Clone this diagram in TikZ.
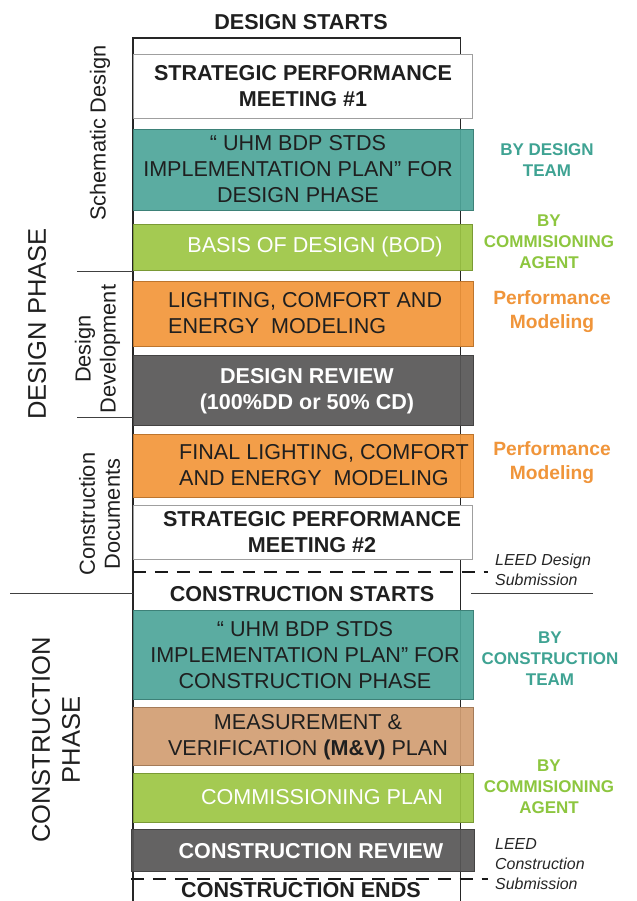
\documentclass[tikz,border=0pt]{standalone}
\usepackage{fontspec}
\setmainfont{Liberation Sans}
\usepackage{xcolor}
\usetikzlibrary{positioning}
\definecolor{tealbox}{HTML}{4EA69A}
\definecolor{greenbox}{HTML}{9DC644}
\definecolor{orangebox}{HTML}{F2963A}
\definecolor{darkbox}{HTML}{575656}
\definecolor{tanbox}{HTML}{D29E72}
\definecolor{tealtxt}{HTML}{3FA393}
\definecolor{greentxt}{HTML}{8DC63F}
\definecolor{orangetxt}{HTML}{F0953A}
\newcommand{\boxfont}{\fontsize{18.4}{22.2}\selectfont}

\begin{document}
\begin{tikzpicture}[x=0.03cm, y=-0.03cm,
    box/.style={draw=#1!78!black, fill=#1, fill opacity=0.92, line width=0.8pt},
    wbox/.style={draw=gray!75, fill=white, line width=0.8pt},
    boxtxt/.style={align=center, inner sep=0pt, text=black!88, font=\boxfont},
    boldtxt/.style={boxtxt, font=\boxfont\bfseries},
    sidetxt/.style={align=center, inner sep=0pt, font=\fontsize{14.5}{17.9}\selectfont\bfseries},
    perftxt/.style={sidetxt, text=orangetxt, font=\fontsize{16.4}{20.5}\selectfont\bfseries},
    leedtxt/.style={align=left, anchor=west, inner sep=0pt, text=black!85, font=\fontsize{13.6}{17}\selectfont\itshape},
    phasetxt/.style={rotate=90, align=center, inner sep=0pt, text=black!88, font=\fontsize{18.6}{21.3}\selectfont},
    colline/.style={draw=black!85, line width=0.9pt},
    sepline/.style={draw=black!75, line width=0.8pt},
    milestone/.style={draw=black!90, line width=1.7pt, dash pattern=on 11pt off 7.7pt}]

\useasboundingbox (0,0) rectangle (636,901);
\fill[white] (0,0) rectangle (636,901);

% timeline column
\coordinate (colbl) at (133,901);
\coordinate (coltl) at (133,38);
\coordinate (coltr) at (460.6,38);
\coordinate (colbr) at (460.6,901);
\draw[colline] (colbl) -- (coltl) -- (coltr) -- (colbr);

\node[boldtxt] (dstart) at (301,22) {DESIGN STARTS};

% design phase
\draw[wbox] (133,54) rectangle (472,118);
\node[boldtxt] (spm1) at (303,86) {STRATEGIC PERFORMANCE\\MEETING \#1};

\draw[box=tealbox] (133,129) rectangle (473,210);
\node[boxtxt] (implD) at (298,169) {“ UHM BDP STDS\\IMPLEMENTATION PLAN” FOR\\DESIGN PHASE};

\draw[box=greenbox] (133,224) rectangle (472,270);
\node[boxtxt, text=white] (bod) at (315,247) {BASIS OF DESIGN (BOD)};

\draw[box=orangebox] (133,281) rectangle (473,346);
\node[boxtxt, align=left, anchor=west] (model1) at (168,313) {LIGHTING, COMFORT AND\\ENERGY~ MODELING};

\draw[box=darkbox] (133,355) rectangle (473,425);
\node[boldtxt, text=white] (drev) at (307,391) {DESIGN REVIEW\\(100\%DD or 50\% CD)};

\draw[box=orangebox] (133,434) rectangle (473,497);
\node[boxtxt, align=left, anchor=west] (model2) at (179,465) {FINAL LIGHTING, COMFORT\\AND ENERGY~ MODELING};

\draw[wbox] (133,505) rectangle (472,559);
\node[boldtxt] (spm2) at (312,532) {STRATEGIC PERFORMANCE\\MEETING \#2};

\coordinate (leedD) at (488,572);
\draw[milestone] (133,572) -- (leedD);

% construction phase
\node[boldtxt] (cstart) at (302,594) {CONSTRUCTION STARTS};

\draw[box=tealbox] (133,610) rectangle (473,699);
\node[boxtxt] (implC) at (305,655) {“ UHM BDP STDS\\IMPLEMENTATION PLAN” FOR\\CONSTRUCTION PHASE};

\draw[box=tanbox] (133,707) rectangle (473,765);
\node[boxtxt] (mv) at (308,737) {MEASUREMENT \&\\VERIFICATION \textbf{(M\&V)} PLAN};

\draw[box=greenbox] (133,773) rectangle (473,822);
\node[boxtxt, text=white] (cxplan) at (322,797) {COMMISSIONING PLAN};

\draw[box=darkbox] (131,829) rectangle (474,871);
\node[boldtxt, text=white] (crev) at (311,851) {CONSTRUCTION REVIEW};

\coordinate (leedC) at (488,879);
\draw[milestone] (131,879) -- (leedC);

\node[boldtxt] (cend) at (301,890) {CONSTRUCTION ENDS};

% right hand notes
\node[sidetxt, text=tealtxt] (byDT) at (547,160) {BY DESIGN\\TEAM};
\node[sidetxt, text=greentxt] (byCA1) at (549,242) {BY\\COMMISIONING\\AGENT};
\node[perftxt] (perf1) at (552,312) {Performance\\Modeling};
\node[perftxt] (perf2) at (552,463) {Performance\\Modeling};
\node[leedtxt] (leed1) at (495,570) {LEED Design\\Submission};
\node[sidetxt, text=tealtxt] (byCT) at (550,659) {BY\\CONSTRUCTION\\TEAM};
\node[sidetxt, text=greentxt] (byCA2) at (549,787) {BY\\COMMISIONING\\AGENT};
\node[leedtxt] (leed2) at (495,864) {LEED\\Construction\\Submission};

% left hand phases
\draw[sepline] (77,271) -- (133,271);
\draw[sepline] (77,417) -- (133,417);
\draw[sepline] (10,593) -- (133,593);
\draw[sepline] (471,593) -- (593,593);

\node[phasetxt] (sd) at (100,133) {Schematic Design};
\node[phasetxt] (dd) at (97.5,349) {Design\\Development};
\node[phasetxt] (cd) at (99.5,514) {Construction\\Documents};
\node[phasetxt, font=\fontsize{21.8}{25.6}\selectfont] (dphase) at (37,324) {DESIGN PHASE};
\node[phasetxt, font=\fontsize{21.8}{25.6}\selectfont] (cphase) at (56,740) {CONSTRUCTION\\PHASE};

\end{tikzpicture}
\end{document}
